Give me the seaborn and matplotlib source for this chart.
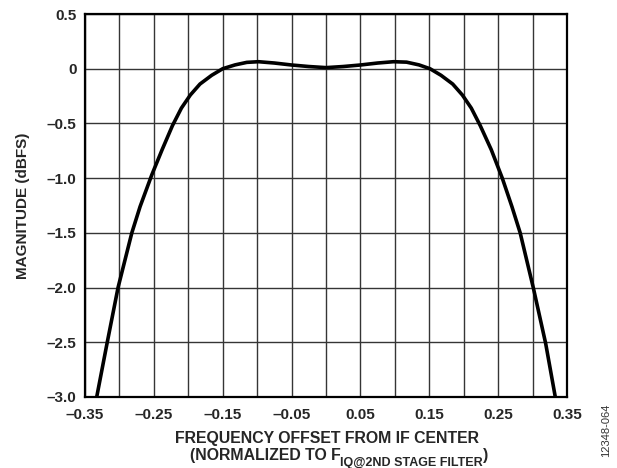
import numpy as np
import pandas as pd
import matplotlib
matplotlib.use("Agg")
import matplotlib.pyplot as plt
import seaborn as sns
from matplotlib.ticker import MultipleLocator, FuncFormatter

# values
freq_offset = [-0.333, -0.318, -0.302, -0.282, -0.270, -0.253, -0.238,
               -0.223, -0.210, -0.197, -0.183, -0.166, -0.150, -0.132, -0.115,
               -0.098, -0.075, -0.050, -0.025, 0.000, 0.025, 0.050, 0.075,
               0.098, 0.117, 0.135, 0.151, 0.167, 0.184, 0.198, 0.211, 0.224,
               0.240, 0.256, 0.270, 0.282, 0.301, 0.319, 0.333]
magnitude = [-3.00, -2.51, -2.00, -1.50, -1.26, -0.97, -0.74,
             -0.52, -0.36, -0.24, -0.14, -0.06, 0.00, 0.035, 0.058,
             0.064, 0.052, 0.034, 0.020, 0.010, 0.020, 0.034, 0.052,
             0.064, 0.060, 0.035, 0.00, -0.06, -0.14, -0.24, -0.36, -0.52,
             -0.74, -1.00, -1.26, -1.50, -2.00, -2.51, -3.00]

df = pd.DataFrame({"freq": freq_offset, "mag": magnitude})

sns.set_style("white")
plt.rcParams['font.family'] = ['Liberation Sans', 'DejaVu Sans']
plt.rcParams['font.weight'] = 'bold'

W, H = 617, 468
fig = plt.figure(figsize=(W / 100, H / 100), dpi=100)
ax = fig.add_axes([85 / W, 1 - 397 / H, (567 - 85) / W, (397 - 14) / H])

sns.lineplot(data=df, x="freq", y="mag", color="black", linewidth=2.6,
             ax=ax, sort=False)

ax.set_xlim(-0.35, 0.35)
ax.set_ylim(-3.0, 0.5)
ax.xaxis.set_major_locator(MultipleLocator(0.1, offset=0.05))
ax.xaxis.set_minor_locator(MultipleLocator(0.05))
ax.yaxis.set_major_locator(MultipleLocator(0.5))


def fmt(v, nd):
    if abs(v) < 1e-9:
        return "0"
    s = f"{abs(v):.{nd}f}"
    return ("\u2013" + s) if v < 0 else s


ax.xaxis.set_major_formatter(FuncFormatter(lambda v, p: fmt(v, 2)))
ax.yaxis.set_major_formatter(FuncFormatter(lambda v, p: fmt(v, 1)))
ax.grid(True, which="both", color="#353535", linewidth=1.0)
ax.set_axisbelow(True)
ax.tick_params(which="both", length=0, labelsize=11)
ax.tick_params(axis="y", pad=6)
ax.tick_params(axis="x", pad=8)
for s in ax.spines.values():
    s.set_color("black")
    s.set_linewidth(1.6)
    s.set_visible(True)

ax.set_xlabel("")
ax.set_ylabel("MAGNITUDE (dBFS)", fontsize=11, fontweight="bold", labelpad=12)

# x axis title, two lines, second one with a subscript
fig.text(327 / W, 1 - 443 / H, "FREQUENCY OFFSET FROM IF CENTER",
         fontsize=11.4, fontweight="bold", ha="center", va="baseline")

renderer = fig.canvas.get_renderer()
parts = [("(NORMALIZED TO F", 11.4, 0), ("IQ@2ND STAGE FILTER", 9, 6),
         (")", 11.4, 0)]
texts = []
for txt, size, drop in parts:
    t = fig.text(0, 0, txt, fontsize=size, fontweight="bold",
                 ha="left", va="baseline")
    texts.append((t, drop, t.get_window_extent(renderer).width))
total = sum(w for _, _, w in texts)
x = 339 - total / 2
for t, drop, w in texts:
    t.set_position((x / W, 1 - (460 + drop) / H))
    x += w

fig.text(606 / W, 1 - 430 / H, "12348-064", rotation=90, fontsize=8,
         fontweight="normal", color="#333333", ha="center", va="center")

fig.savefig("out.png", dpi=100)
